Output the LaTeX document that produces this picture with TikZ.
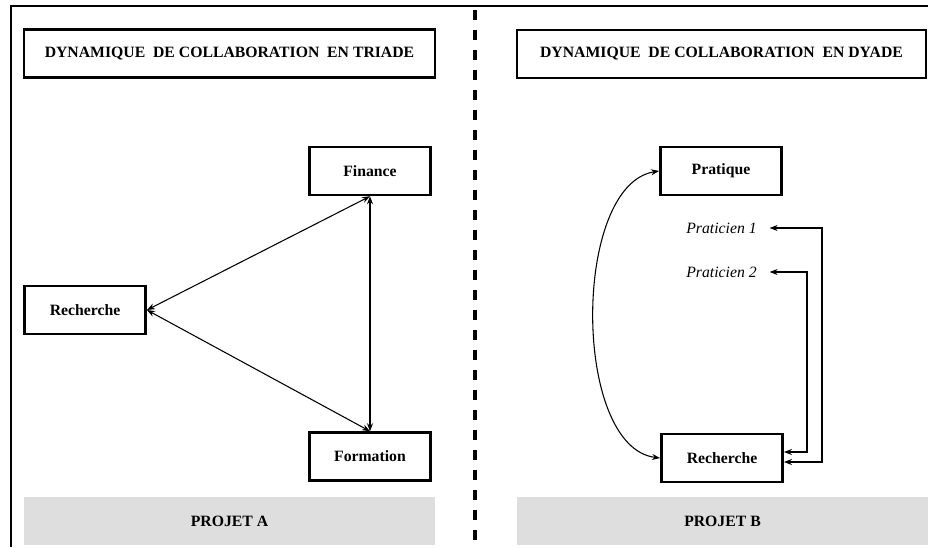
\documentclass[tikz,border=0pt]{standalone}
\usepackage{fontspec}
\setmainfont{Liberation Serif}
\usetikzlibrary{arrows.meta}
\begin{document}
\begin{tikzpicture}[x=0.75pt,y=-0.75pt,line join=miter,>={Stealth[length=6pt,width=4.5pt]},
  box/.style={draw,line width=1.9pt,inner sep=0pt,font=\fontsize{11.8}{13}\selectfont\bfseries},
  titre/.style={box,minimum height=36pt},
  bande/.style={fill=black!13,inner sep=0pt,minimum width=308pt,minimum height=36pt,font=\fontsize{11.8}{13}\selectfont\bfseries},
  acteur/.style={box,minimum width=91pt,minimum height=36pt},
  praticien/.style={font=\fontsize{11.8}{13}\selectfont\itshape,inner sep=0pt},
  lien/.style={line width=0.8pt,<->}]
  \useasboundingbox (0,0) rectangle (928,547);
  % cadre
  \draw[line width=2pt] (10,6) -- (928,6);
  \draw[line width=2pt] (11,6) -- (11,547);
  \draw[line width=2.4pt,dash pattern=on 7.5pt off 7.5pt] (475,10) -- (475,547);
  % projet A
  \node[titre,minimum width=308pt] (titreA) at (229.5,53.5) {DYNAMIQUE\ \ DE COLLABORATION\ \ EN TRIADE};
  \node[acteur] (fin) at (370,171) {Finance};
  \node[acteur] (rechA) at (85,310) {Recherche};
  \node[acteur] (form) at (370,456.5) {Formation};
  \draw[lien] (rechA.east) -- (fin.south);
  \draw[lien] (rechA.east) -- (form.north);
  \draw[lien] (fin.south) -- (form.north);
  \node[bande] (projA) at (229.5,521) {PROJET A};
  % projet B
  \node[titre,minimum width=307pt] (titreB) at (721.5,54) {DYNAMIQUE\ \ DE COLLABORATION\ \ EN DYADE};
  \node[acteur] (prat) at (721,171) {Pratique};
  \node[acteur] (rechB) at (722,458) {Recherche};
  \node[praticien] (p1) at (721.5,228) {Praticien 1};
  \node[praticien] (p2) at (721.5,272) {Praticien 2};
  \draw[lien] (prat.west) .. controls (572,185) and (572,447) .. (rechB.west);
  \coordinate (k1) at (822,228);
  \coordinate (k2) at (807,272);
  \draw[lien,shorten <=9.5pt] (p1.east) -- (k1) |- ([yshift=-3pt]rechB.east);
  \draw[lien,shorten <=9.5pt] (p2.east) -- (k2) |- ([yshift=4.5pt]rechB.east);
  \node[bande,minimum width=309pt] (projB) at (722.5,521) {PROJET B};
\end{tikzpicture}
\end{document}
